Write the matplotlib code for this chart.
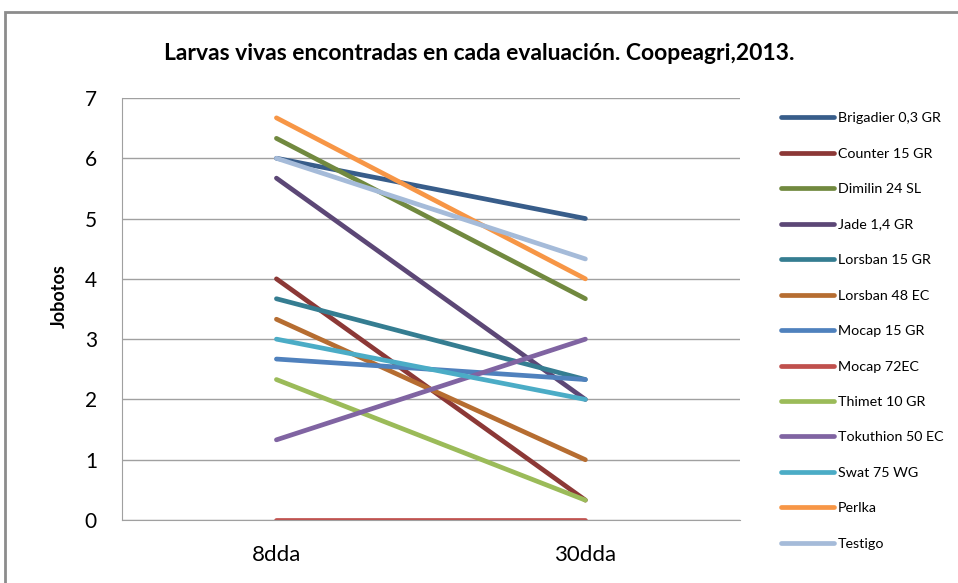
import matplotlib
matplotlib.use("Agg")
import matplotlib.pyplot as plt
from matplotlib.patches import Rectangle

plt.rcParams['font.family'] = ['Lato', 'DejaVu Sans']

categories = ["8dda", "30dda"]
series_names = ["Brigadier 0,3 GR", "Counter 15 GR", "Dimilin 24 SL", "Jade 1,4 GR",
                "Lorsban 15 GR", "Lorsban 48 EC", "Mocap 15 GR", "Mocap 72EC",
                "Thimet 10 GR", "Tokuthion 50 EC", "Swat 75 WG", "Perlka", "Testigo"]
values_8dda = [6.0, 4.0, 6.33, 5.67, 3.67, 3.33, 2.67, 0.0, 2.33, 1.33, 3.0, 6.67, 6.0]
values_30dda = [5.0, 0.33, 3.67, 2.0, 2.33, 1.0, 2.33, 0.0, 0.33, 3.0, 2.0, 4.0, 4.33]
colors = ["#385D8A", "#8C3836", "#71893F", "#5C4776", "#357D91", "#B66D31",
          "#4F81BD", "#C0504D", "#9BBB59", "#8064A2", "#4BACC6", "#F79646", "#A5BBD9"]

fig = plt.figure(figsize=(9.58, 5.83), dpi=100)
ax = fig.add_axes([0.1273, 0.108, 0.645, 0.724])

x = list(range(len(categories)))
for name, a, b, c in zip(series_names, values_8dda, values_30dda, colors):
    ax.plot(x, [a, b], color=c, lw=3.4, solid_capstyle='round', label=name)

ax.set_xlim(-0.5, 1.5)
ax.set_ylim(0, 7)
ax.set_yticks(range(0, 8))
ax.set_xticks(x)
ax.set_xticklabels(categories, fontsize=16)
ax.tick_params(axis='y', labelsize=15, length=0, pad=18)
ax.tick_params(axis='x', length=0, pad=18)
ax.grid(axis='y', color='#A0A0A0', lw=1)
ax.set_axisbelow(True)
for s in ['top', 'right']:
    ax.spines[s].set_visible(False)
ax.spines['bottom'].set_color('#A0A0A0')
ax.spines['left'].set_color('#A0A0A0')

ax.set_ylabel("Jobotos", fontsize=13, fontweight='bold')
ax.yaxis.set_label_coords(-0.087, 0.53)
fig.text(0.5, 0.908, "Larvas vivas encontradas en cada evaluación. Coopeagri,2013.",
         ha='center', va='center', fontsize=16.5, fontweight='bold')

ax.legend(loc='upper left', bbox_to_anchor=(1.05, 0.99), frameon=False,
          fontsize=10.3, handlelength=3.7, labelspacing=1.64, handletextpad=0.3,
          borderaxespad=0.3)

fig.patches.append(Rectangle((0.0052, -0.05), 1.1, 0.979 + 0.05, transform=fig.transFigure,
                             fill=False, edgecolor='#8C8C8C', lw=2, clip_on=False))

fig.savefig("out.png", dpi=100)
